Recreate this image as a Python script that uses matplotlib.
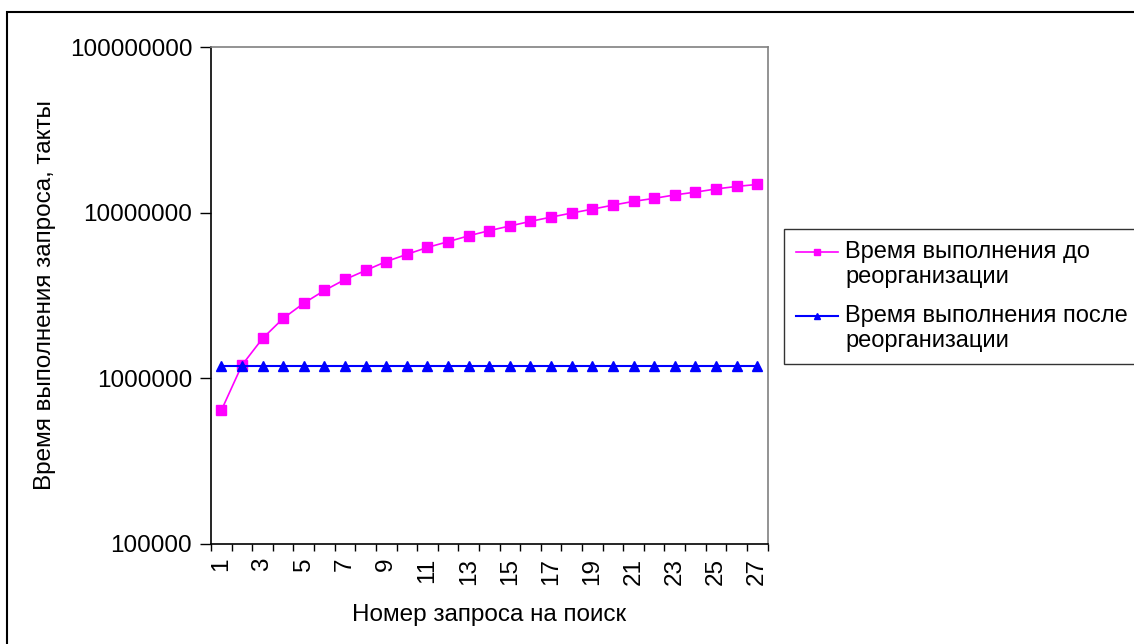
import matplotlib
matplotlib.use("Agg")
import matplotlib.pyplot as plt
from matplotlib.patches import Rectangle
from matplotlib.legend_handler import HandlerLine2D
from matplotlib.ticker import FixedLocator, NullFormatter, FuncFormatter

plt.rcParams['font.family'] = ['Liberation Sans', 'DejaVu Sans']

# query number and execution time in clock ticks
queries = list(range(1, 28))
before_reorg = [640000, 1200000, 1740000, 2300000, 2840000, 3390000, 3950000,
                4480000, 5070000, 5600000, 6170000, 6680000, 7250000, 7790000,
                8310000, 8860000, 9400000, 9950000, 10500000, 11100000,
                11700000, 12200000, 12800000, 13300000, 13900000, 14400000,
                14800000]
after_reorg = [1190000] * 27

label_before = 'Время выполнения до\nреорганизации'
label_after = 'Время выполнения после\nреорганизации'
xlabel = 'Номер запроса на поиск'
ylabel = 'Время выполнения запроса, такты'


class FirstLineHandler(HandlerLine2D):
    # put the legend key next to the first line of a two-line label
    def create_artists(self, legend, orig_handle, xdescent, ydescent,
                       width, height, fontsize, trans):
        return super().create_artists(legend, orig_handle, xdescent,
                                      ydescent - 18.5, width, height,
                                      fontsize, trans)


W, H = 1134, 644
fig = plt.figure(figsize=(W / 100, H / 100), dpi=100)
ax = fig.add_axes([211 / W, 1 - 544 / H, (767.5 - 211) / W, (544 - 47) / H])

fs = 17.5
l1, = ax.plot(queries, before_reorg, color='#FF00FF', lw=1.2, marker='s',
              markersize=6.5, label=label_before)
l2, = ax.plot(queries, after_reorg, color='#0000FF', lw=1.5, marker='^',
              markersize=7, label=label_after)

ax.set_yscale('log')
ax.set_ylim(1e5, 1e8)
ax.set_xlim(0.5, 27.5)

ax.yaxis.set_major_locator(FixedLocator([1e5, 1e6, 1e7, 1e8]))
ax.yaxis.set_major_formatter(FuncFormatter(lambda v, p: f'{int(round(v))}'))
ax.yaxis.set_minor_locator(FixedLocator([]))
ax.tick_params(axis='y', which='major', direction='out', length=8, width=1,
               labelsize=fs, pad=5.5)

ax.xaxis.set_major_locator(FixedLocator(queries[::2]))
ax.xaxis.set_major_formatter(FuncFormatter(lambda v, p: f'{int(v)}'))
ax.xaxis.set_minor_locator(FixedLocator([k + 0.5 for k in range(0, 28)]))
ax.xaxis.set_minor_formatter(NullFormatter())
ax.tick_params(axis='x', which='major', length=0, labelsize=fs,
               labelrotation=90, pad=10)
ax.tick_params(axis='x', which='minor', direction='out', length=5, width=1)

for side in ('top', 'right'):
    ax.spines[side].set_color('#808080')
    ax.spines[side].set_linewidth(1.2)
for side in ('left', 'bottom'):
    ax.spines[side].set_color('black')
    ax.spines[side].set_linewidth(1.2)

ax.set_xlabel(xlabel, fontsize=fs, labelpad=14)
ax.set_ylabel(ylabel, fontsize=fs, labelpad=10)

leg = fig.legend(handles=[l1, l2], loc='upper left',
                 bbox_to_anchor=(784 / W, 1 - 229 / H),
                 fontsize=17, frameon=True, fancybox=False, shadow=False,
                 handlelength=1.8, handletextpad=0.3, borderpad=0.5,
                 labelspacing=0.7, borderaxespad=0, markerscale=0.6,
                 handler_map={l1: FirstLineHandler(), l2: FirstLineHandler()})
leg.get_frame().set_edgecolor('black')
leg.get_frame().set_linewidth(1.0)

# chart area frame
fig.patches.append(Rectangle((6.5 / W, -0.05), 1.2, 1 - 11.5 / H + 0.05,
                             transform=fig.transFigure, fill=False,
                             edgecolor='black', lw=1.5))

fig.savefig('out.png', dpi=100)
